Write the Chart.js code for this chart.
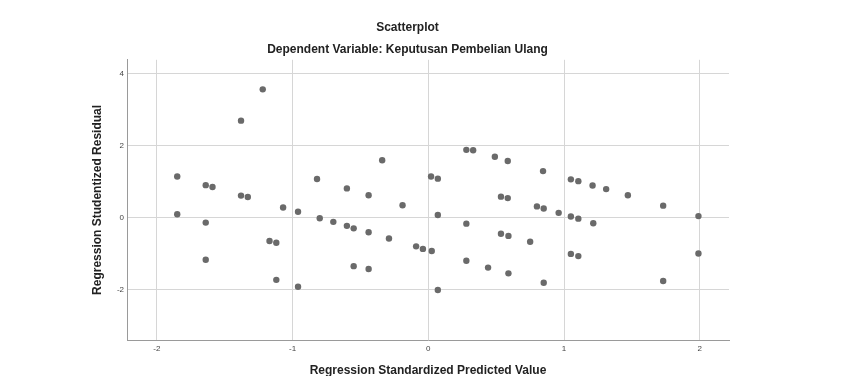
<!DOCTYPE html>
<html>
<head>
<meta charset="utf-8">
<script src="https://cdn.jsdelivr.net/npm/chart.js@4"></script>
<style>
  body { margin: 0; background: #fff; }
  #wrap { width: 862px; height: 376px; }
</style>
</head>
<body>
<div id="wrap"><canvas id="scatter" width="862" height="376"></canvas></div>
<script>
// Regression Standardized Predicted Value (x) / Studentized Residual (y)
const predicted = [
  -1.22, -1.38, -1.85, -1.64, -1.59, -0.82, -0.60, -0.34, 0.28, 0.33,
  0.49, 0.585, 0.845, 0.02, 0.07, 1.05, 1.105, 1.21, 1.31, -1.38,
  -1.33, -1.07, -0.96, -1.85, -1.64, -0.80, -0.70, -0.60, -0.55, -0.44,
  -0.44, -0.19, -0.29, -0.09, -1.17, -1.12, -1.64, -0.55, -0.44, -1.12,
  -0.96, 1.47, 0.535, 0.585, 0.80, 0.85, 0.96, 1.73, 0.07, 1.05,
  1.105, 1.99, 0.28, 1.215, 0.535, 0.59, 0.75, -0.04, 0.025, 1.05,
  1.105, 1.99, 0.28, 0.44, 0.59, 0.85, 1.73, 0.07
];
const residual = [
  3.56, 2.69, 1.14, 0.90, 0.85, 1.07, 0.81, 1.59, 1.88, 1.87,
  1.69, 1.57, 1.29, 1.14, 1.08, 1.06, 1.01, 0.89, 0.79, 0.61,
  0.57, 0.28, 0.16, 0.09, -0.14, -0.02, -0.12, -0.23, -0.30, -0.41,
  0.62, 0.34, -0.58, -0.80, -0.65, -0.70, -1.17, -1.35, -1.43, -1.73,
  -1.92, 0.62, 0.58, 0.54, 0.31, 0.25, 0.13, 0.33, 0.07, 0.03,
  -0.03, 0.04, -0.17, -0.16, -0.45, -0.51, -0.67, -0.87, -0.93, -1.01,
  -1.07, -1.00, -1.20, -1.39, -1.55, -1.81, -1.76, -2.01
];
const xTicks = [-2, -1, 0, 1, 2];
const yTicks = [-2, 0, 2, 4];

const points = predicted.map((x, i) => ({ x: x, y: residual[i] }));

const tickFont = { family: "'Liberation Sans', Arial, sans-serif", size: 8 };
const boldFont = { family: "'Liberation Sans', Arial, sans-serif", size: 12, weight: "bold", lineHeight: 1.2 };

new Chart(document.getElementById("scatter"), {
  type: "scatter",
  data: {
    datasets: [{
      data: points,
      backgroundColor: "#6a6a6a",
      borderColor: "#6a6a6a",
      borderWidth: 0,
      pointRadius: 3.2,
      pointHoverRadius: 3.2
    }]
  },
  options: {
    responsive: false,
    animation: false,
    devicePixelRatio: 1,
    layout: { padding: { left: 86, right: 133, top: 0, bottom: 0 } },
    plugins: {
      legend: { display: false },
      tooltip: { enabled: false },
      title: {
        display: true,
        text: "Scatterplot",
        color: "#222",
        font: boldFont,
        padding: { top: 20, bottom: 8 }
      },
      subtitle: {
        display: true,
        text: "Dependent Variable: Keputusan Pembelian Ulang",
        color: "#222",
        font: boldFont,
        padding: { top: 0, bottom: 3 }
      }
    },
    scales: {
      x: {
        type: "linear",
        min: -2.22,
        max: 2.215,
        afterBuildTicks: (scale) => { scale.ticks = xTicks.map(v => ({ value: v })); },
        afterFit: (scale) => { scale.height = 36; },
        ticks: { font: tickFont, color: "#444", padding: 4, maxRotation: 0 },
        grid: { color: "#d6d6d6", lineWidth: 1, drawTicks: false },
        border: { color: "#9a9a9a", width: 1 },
        title: {
          display: true,
          text: "Regression Standardized Predicted Value",
          color: "#222",
          font: { family: boldFont.family, size: 12, weight: "bold", lineHeight: 1 },
          padding: { top: 0, bottom: -1 }
        }
      },
      y: {
        type: "linear",
        min: -3.4,
        max: 4.38,
        afterBuildTicks: (scale) => { scale.ticks = yTicks.map(v => ({ value: v })); },
        afterFit: (scale) => { scale.width = 41; },
        ticks: { font: tickFont, color: "#444", padding: 3 },
        grid: { color: "#d6d6d6", lineWidth: 1, drawTicks: false },
        border: { color: "#9a9a9a", width: 1 },
        title: {
          display: true,
          text: "Regression Studentized Residual",
          color: "#222",
          font: boldFont,
          padding: { top: 4, bottom: 0 }
        }
      }
    }
  }
});
</script>
</body>
</html>
